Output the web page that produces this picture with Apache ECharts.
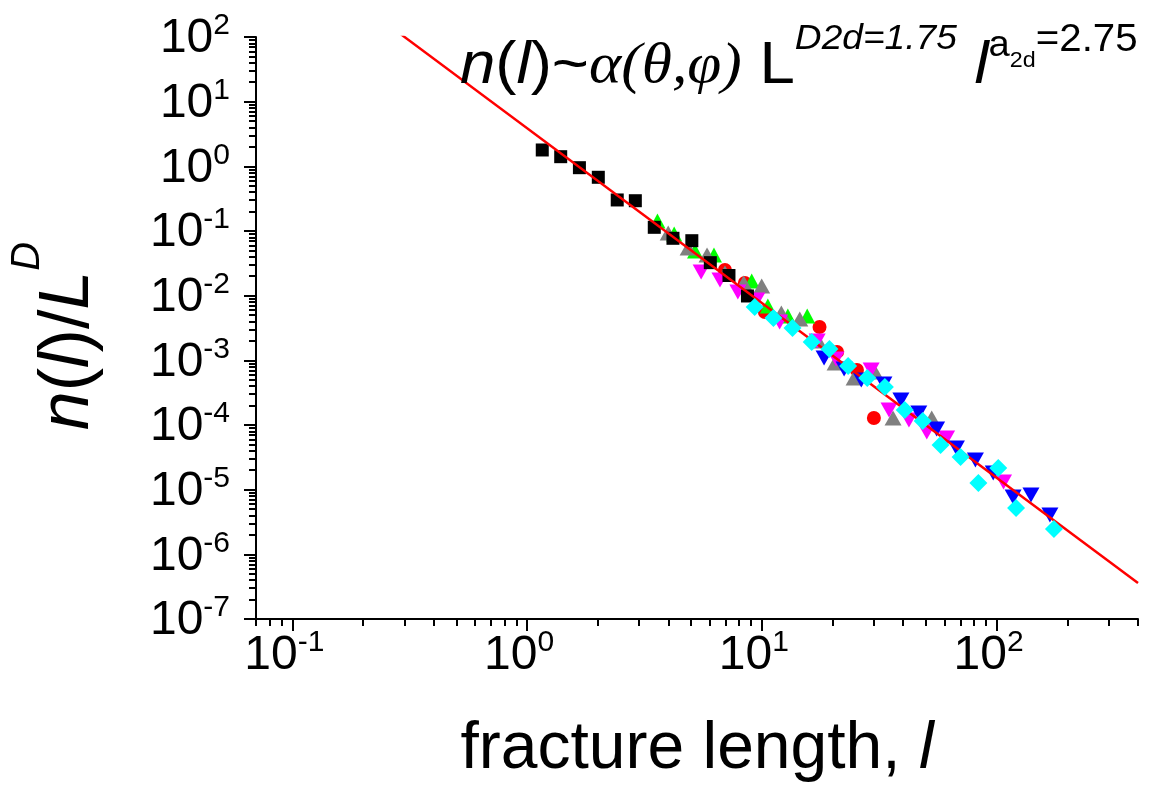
<!DOCTYPE html>
<html><head><meta charset="utf-8">
<script src="https://cdn.jsdelivr.net/npm/echarts@6/dist/echarts.min.js"></script>
<style>html,body{margin:0;padding:0;background:#fff}#c{width:1171px;height:789px}</style>
</head><body><div id="c"></div>
<script>
// ---- tick values ----
const xTickValues = [0.1, 1, 10, 100];
const yTickValues = [1e-7, 1e-6, 1e-5, 1e-4, 1e-3, 1e-2, 1e-1, 1, 10, 100];

// ---- data ----
const blackX = [1.16, 1.39, 1.67, 2.01, 2.42, 2.89, 3.48, 4.18, 5.03, 6.03, 7.24, 8.68];
const blackY = [1.79, 1.41, 0.953, 0.677, 0.302, 0.294, 0.114, 0.0771, 0.0708, 0.0324, 0.0205, 0.00989];

const greenX = [3.59, 4.23, 5.19, 6.25, 9.05, 10.6, 12.9, 15.6];
const greenY = [0.143, 0.0899, 0.0491, 0.0426, 0.0169, 0.00692, 0.00485, 0.00485];

const grayX = [3.99, 4.85, 5.84, 6.96, 8.37, 9.98, 12.1, 14.5, 17.4, 20.5, 24.7, 30.3, 36.2, 52.9];
const grayY = [0.0931, 0.0546, 0.0426, 0.0224, 0.0157, 0.0141, 0.0054, 0.00436, 0.00199, 0.00091, 0.000533, 0.000661, 0.000128, 0.000128];

const magentaX = [5.51, 6.63, 7.90, 9.51, 11.9, 17.2, 20.7, 29.2, 34.8, 42.3, 50.4, 61.2, 107];
const magentaY = [0.0232, 0.0175, 0.0114, 0.00857, 0.00392, 0.00199, 0.00105, 0.00071, 0.000171, 0.00012, 0.000078, 0.000063, 0.0000131];

const redX = [6.96, 8.46, 10.3, 17.6, 20.9, 25.4, 30.0];
const redY = [0.0249, 0.0157, 0.0056, 0.00328, 0.00135, 0.00071, 0.000128];

const blueX = [18.4, 22.4, 26.5, 33.1, 39.1, 46.6, 55.5, 67.4, 81.2, 96.7, 117.5, 140, 168.6];
const blueY = [0.00109, 0.000735, 0.000497, 0.000431, 0.000244, 0.000153, 0.0000868, 0.0000442, 0.0000288, 0.0000181, 0.0000077, 0.0000083, 0.00000406];

const cyanX = [9.32, 11.2, 13.5, 16.3, 19.4, 23.3, 28.1, 33.4, 40.6, 48.4, 57.7, 70.2, 83.6, 101.6, 121, 175.4];
const cyanY = [0.00668, 0.00452, 0.00316, 0.00192, 0.0015, 0.000818, 0.000533, 0.000387, 0.000171, 0.000115, 0.0000491, 0.000032, 0.0000127, 0.0000216, 0.0000052, 0.00000247];

const fitX = [0.29, 400];
const fitY = [110, 3.6e-7];

// ---- helpers ----
function pairs(xs, ys) { return xs.map((x, i) => [x, ys[i]]); }
function minorTicks(lo, hi) {
  const out = [];
  for (let e = -8; e <= 3; e++) {
    for (let k = 2; k <= 9; k++) {
      const v = Number((k * Math.pow(10, e)).toPrecision(3));
      if (v >= lo * 0.999 && v <= hi * 1.001) out.push(v);
    }
  }
  return out;
}
const FONT = "'Liberation Sans', Arial, sans-serif";
const SERIF = "'Liberation Serif', 'Times New Roman', serif";

function powLabel(v) {
  const e = Math.round(Math.log10(v));
  return '{b|10}{s|' + e + '}';
}
const labelRich = {
  b: { fontSize: 48, fontFamily: FONT, color: '#000', lineHeight: 52, verticalAlign: 'bottom' },
  s: { fontSize: 30, fontFamily: FONT, color: '#000', lineHeight: 30, verticalAlign: 'top' }
};

const X_MIN = 0.07, X_MAX = 400, Y_MIN = 1e-7, Y_MAX = 100;

const tickLine = { color: '#000', width: 2 };

const chart = echarts.init(document.getElementById('c'), null, { renderer: 'canvas' });

function scatter(name, xs, ys, symbol, size, color, rot, z) {
  return {
    name, type: 'scatter', xAxisIndex: 0, yAxisIndex: 0,
    data: pairs(xs, ys), symbol, symbolSize: size, symbolRotate: rot || 0,
    itemStyle: { color: color, opacity: 1 }, z: z, silent: true
  };
}

chart.setOption({
  animation: false,
  backgroundColor: '#fff',
  grid: { left: 248, right: 33, top: 37, bottom: 170, containLabel: false },
  xAxis: [
    {
      type: 'log', min: X_MIN, max: X_MAX, position: 'bottom',
      axisLine: { show: true, onZero: false, lineStyle: tickLine },
      axisTick: { show: true, inside: false, length: 12, lineStyle: tickLine, customValues: xTickValues },
      axisLabel: { show: true, margin: 9, padding: [0, 16, 0, 0], customValues: xTickValues, formatter: powLabel, rich: labelRich },
      splitLine: { show: false }, minorTick: { show: false },
      name: '{r|fracture length, }{i|l}', nameLocation: 'middle', nameGap: 98,
      nameTextStyle: {
        rich: {
          r: { fontSize: 66, fontFamily: FONT, color: '#000' },
          i: { fontSize: 66, fontFamily: FONT, fontStyle: 'italic', color: '#000' }
        }
      }
    },
    {
      type: 'log', min: X_MIN, max: X_MAX, position: 'bottom',
      axisLine: { show: false },
      axisTick: { show: true, inside: false, length: 7, lineStyle: tickLine, customValues: minorTicks(X_MIN, X_MAX) },
      axisLabel: { show: false }, splitLine: { show: false }
    }
  ],
  yAxis: [
    {
      type: 'log', min: Y_MIN, max: Y_MAX, position: 'left',
      axisLine: { show: true, onZero: false, lineStyle: tickLine },
      axisTick: { show: true, inside: false, length: 12, lineStyle: tickLine, customValues: yTickValues },
      axisLabel: { show: true, margin: 26, customValues: yTickValues, formatter: powLabel, rich: labelRich },
      splitLine: { show: false }, minorTick: { show: false },
      name: '{i|n}{r|(}{i|l}{r|)/}{i|L}{s|D}', nameLocation: 'middle', nameGap: 152,
      nameTextStyle: {
        padding: [0, 16, 0, 0],
        rich: {
          r: { fontSize: 70, fontFamily: FONT, color: '#000', lineHeight: 96, verticalAlign: 'bottom' },
          i: { fontSize: 70, fontFamily: FONT, fontStyle: 'italic', color: '#000', lineHeight: 96, verticalAlign: 'bottom' },
          s: { fontSize: 40, fontFamily: FONT, fontStyle: 'italic', color: '#000', lineHeight: 40, verticalAlign: 'top' }
        }
      }
    },
    {
      type: 'log', min: Y_MIN, max: Y_MAX, position: 'left',
      axisLine: { show: false },
      axisTick: { show: true, inside: false, length: 7, lineStyle: tickLine, customValues: minorTicks(Y_MIN, Y_MAX) },
      axisLabel: { show: false }, splitLine: { show: false }
    }
  ],
  graphic: [
    {
      type: 'text', left: 460, top: 22, z: 100, scaleX: 1.06,
      style: {
        text: '{i|n}{r|(}{i|l}{r|)~}{g|α(θ,φ)}{r| L}{sup|D2d=1.75}{r| }{i|l}{supa|a}{sub|2d}{sup2|=2.75}',
        rich: {
          r: { fontSize: 60, fontFamily: FONT, color: '#000', lineHeight: 74, verticalAlign: 'bottom' },
          i: { fontSize: 60, fontFamily: FONT, fontStyle: 'italic', color: '#000', lineHeight: 74, verticalAlign: 'bottom' },
          g: { fontSize: 58, fontFamily: SERIF, fontStyle: 'italic', color: '#000', lineHeight: 74, verticalAlign: 'bottom' },
          sup: { fontSize: 35, fontFamily: FONT, fontStyle: 'italic', color: '#000', lineHeight: 36, verticalAlign: 'top' },
          supa: { fontSize: 36, fontFamily: FONT, color: '#000', lineHeight: 42, verticalAlign: 'top', padding: [6, 0, 0, 0] },
          sub: { fontSize: 22, fontFamily: FONT, color: '#000', lineHeight: 22, verticalAlign: 'top', padding: [28, 0, 0, 0] },
          sup2: { fontSize: 38, fontFamily: FONT, color: '#000', lineHeight: 36, verticalAlign: 'top' }
        }
      }
    }
  ],
  series: [
    scatter('red', redX, redY, 'circle', 14, '#ff0000', 0, 2),
    scatter('green', greenX, greenY, 'triangle', [16, 15], '#00ff00', 0, 3),
    scatter('gray', grayX, grayY, 'triangle', [17, 15], '#808080', 0, 4),
    scatter('magenta', magentaX, magentaY, 'triangle', [17, 15], '#ff00ff', 180, 5),
    scatter('blue', blueX, blueY, 'triangle', [17, 15], '#0000ff', 180, 6),
    scatter('black', blackX, blackY, 'rect', 13, '#000000', 0, 7),
    {
      name: 'fit', type: 'line', xAxisIndex: 0, yAxisIndex: 0,
      data: pairs(fitX, fitY), symbol: 'none', clip: true,
      lineStyle: { color: '#ff0000', width: 2.5 }, z: 8, silent: true
    },
    scatter('cyan', cyanX, cyanY, 'diamond', 18, '#00ffff', 0, 9)
  ]
});
</script>
</body></html>
